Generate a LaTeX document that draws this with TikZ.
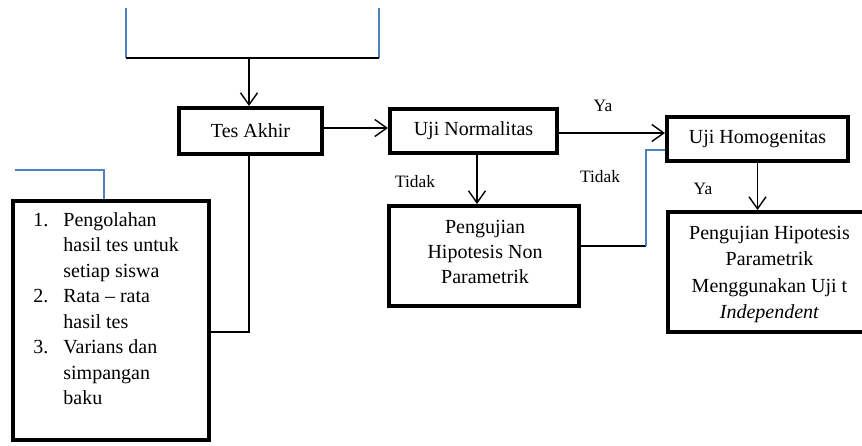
\documentclass[tikz,border=0pt]{standalone}
\usepackage{fontspec}
\setmainfont{Liberation Serif}
\usetikzlibrary{arrows.meta}
\definecolor{wblue}{HTML}{4F81BD}
\begin{document}
\begin{tikzpicture}[x=0.5pt,y=-0.5pt,
  box/.style={draw=black,line width=2pt,rectangle,inner sep=0pt,align=center,
    font=\fontsize{10}{12.5}\selectfont},
  conn/.style={draw=black,line width=0.7pt},
  bconn/.style={draw=wblue,line width=0.7pt},
  arr/.style={conn,-{Straight Barb[length=6pt,width=8.5pt,line width=0.7pt]}},
  lbl/.style={font=\fontsize{8.7}{10}\selectfont,inner sep=0pt}]
\useasboundingbox (0,0) rectangle (862,445);
% boxes (sizes in pt = px/2)
\node[box,minimum width=71.5pt,minimum height=23pt] (tes) at (250.5,131) {Tes Akhir};
\node[box,minimum width=83.5pt,minimum height=22pt] (norm) at (473.5,131) {Uji Normalitas};
\node[box,minimum width=90.5pt,minimum height=22pt] (homo) at (757.5,139) {Uji Homogenitas};
\node[box,minimum width=95pt,minimum height=50pt] (nonpar) at (484,256) {};
\node[font=\fontsize{10}{12.3}\selectfont,align=center,inner sep=0pt] (nonpartxt) at (485,252)
  {Pengujian\\Hipotesis Non\\Parametrik};
\node[box,minimum width=101.5pt,minimum height=60pt] (par) at (769.5,272) {};
\node[font=\fontsize{10}{13.1}\selectfont,align=center,inner sep=0pt] (partxt) at (769.5,274.5)
  {Pengujian Hipotesis\\Parametrik\\Menggunakan Uji t\\\textit{Independent}};
\node[box,minimum width=98pt,minimum height=119.5pt] (list) at (111,320.5) {};
\node[font=\fontsize{10}{12.75}\selectfont,inner sep=0pt,anchor=north west] (listtxt) at (33,208)
  {\begin{tabular}{@{}l@{}l@{}}
   \makebox[15pt][l]{1.} & Pengolahan\\
    & hasil tes untuk\\
    & setiap siswa\\
   \makebox[15pt][l]{2.} & Rata -- rata\\
    & hasil tes\\
   \makebox[15pt][l]{3.} & Varians dan\\
    & simpangan\\
    & baku
  \end{tabular}};
% labels
\node[lbl] (ya1) at (603,106) {Ya};
\node[lbl] (tidak1) at (415,182) {Tidak};
\node[lbl] (tidak2) at (600,177) {Tidak};
\node[lbl] (ya2) at (703,189) {Ya};
% top bracket
\coordinate (tl) at (126,8);
\coordinate (tr) at (379,8);
\coordinate (bl) at (126,58);
\coordinate (br) at (379,58);
\coordinate (tm) at (249,58);
\draw[bconn] (tl) -- (bl);
\draw[bconn] (tr) -- (br);
\draw[conn] (bl) -- (br);
\draw[arr] (tm) -- (tm |- tes.north);
% arrows
\draw[arr] ([yshift=1.5pt]tes.east) -- ([yshift=1.5pt]tes.east -| norm.west);
\draw[arr] ([yshift=-1pt]norm.east) -- ([yshift=-1pt]norm.east -| homo.west);
\draw[arr] ([xshift=1.75pt]norm.south) -- ([xshift=1.75pt]norm.south |- nonpar.north);
\draw[arr] (homo.south) -- (homo.south |- par.north);
% tes to list
\coordinate (j1) at (249,332);
\draw[conn] (tes.south -| j1) -- (j1) -- (j1 -| list.east);
% blue connector to list
\coordinate (lb1) at (15,170);
\coordinate (lb2) at (104,170);
\draw[bconn] (lb1) -- (lb2) -- (lb2 |- list.north);
% nonpar to homo
\coordinate (c1) at (646,246);
\coordinate (c2) at (646,150);
\draw[conn] (c1 -| nonpar.east) -- (c1);
\draw[bconn] (c1) -- (c2) -- (c2 -| homo.west);
\end{tikzpicture}
\end{document}
